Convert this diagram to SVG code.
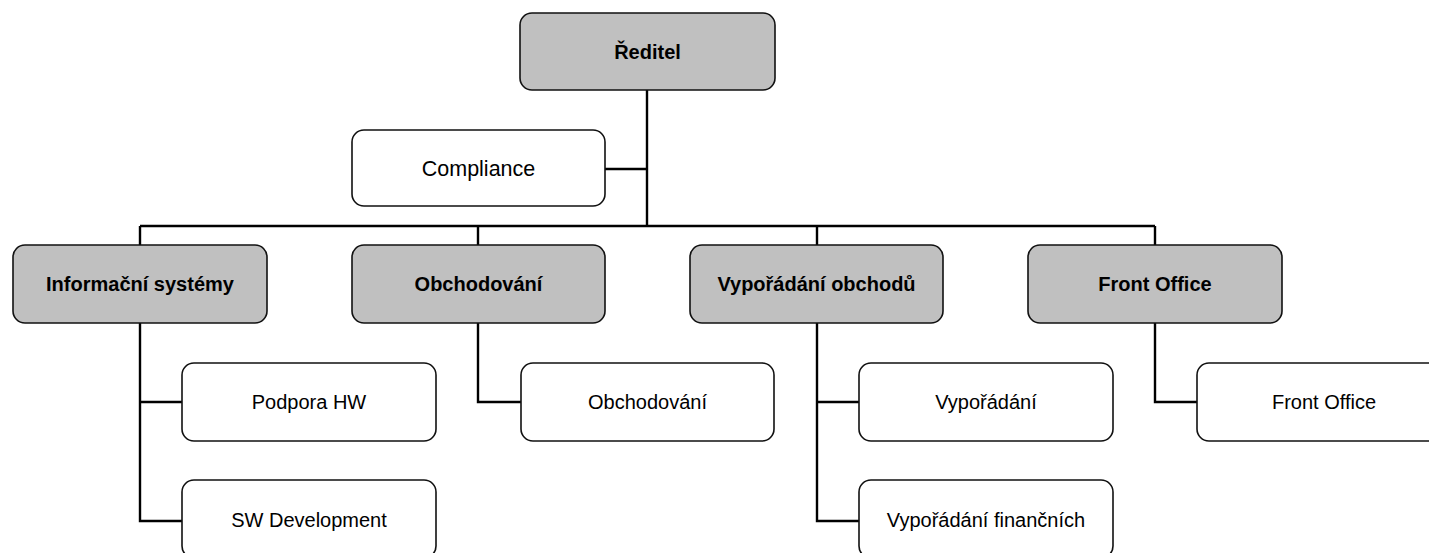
<svg xmlns="http://www.w3.org/2000/svg" width="1429" height="553" viewBox="0 0 1429 553">
<style>
.box{stroke:#111;stroke-width:1.6;}
.g{fill:#c0c0c0;}
.w{fill:#fff;}
.tb{font-family:"Liberation Sans",Arial,sans-serif;font-weight:bold;font-size:20px;fill:#000;text-anchor:middle;}
.t{font-family:"Liberation Sans",Arial,sans-serif;font-size:20px;fill:#000;text-anchor:middle;}
.c{fill:none;stroke:#000;stroke-width:2.4;}
</style>
<rect width="1429" height="553" fill="#fff"/>
<g id="connectors">
<path class="c" d="M647 90V226M605 169H647M140 226H1155M140 226V245M478 226V245M817 226V245M1155 226V245"/>
<path class="c" d="M140 323V521H182M140 402H182"/>
<path class="c" d="M478 323V402H521"/>
<path class="c" d="M817 323V521H859M817 402H859"/>
<path class="c" d="M1155 323V402H1197"/>
</g>
<g id="reditel"><rect class="box g" x="520" y="13" width="255" height="77" rx="12"/><text class="tb" x="647.5" y="58.5">Ředitel</text></g>
<g id="compliance"><rect class="box w" x="352" y="130" width="253" height="76" rx="12"/><text class="t" x="478.5" y="176" style="font-size:21.5px">Compliance</text></g>
<g id="informacni"><rect class="box g" x="13" y="245" width="254" height="78" rx="12"/><text class="tb" x="140" y="291">Informační systémy</text></g>
<g id="obchodovani"><rect class="box g" x="352" y="245" width="253" height="78" rx="12"/><text class="tb" x="478.5" y="291">Obchodování</text></g>
<g id="vyporadani-obchodu"><rect class="box g" x="690" y="245" width="253" height="78" rx="12"/><text class="tb" x="816.5" y="291">Vypořádání obchodů</text></g>
<g id="front-office"><rect class="box g" x="1028" y="245" width="254" height="78" rx="12"/><text class="tb" x="1155" y="291">Front Office</text></g>
<g id="podpora-hw"><rect class="box w" x="182" y="363" width="254" height="78" rx="12"/><text class="t" x="309" y="409">Podpora HW</text></g>
<g id="sw-development"><rect class="box w" x="182" y="480" width="254" height="78" rx="12"/><text class="t" x="309" y="527">SW Development</text></g>
<g id="obchodovani-child"><rect class="box w" x="521" y="363" width="253" height="78" rx="12"/><text class="t" x="647.5" y="409">Obchodování</text></g>
<g id="vyporadani"><rect class="box w" x="859" y="363" width="254" height="78" rx="12"/><text class="t" x="986" y="409">Vypořádání</text></g>
<g id="vyporadani-financnich"><rect class="box w" x="859" y="480" width="254" height="78" rx="12"/><text class="t" x="986" y="527">Vypořádání finančních</text></g>
<g id="front-office-child"><rect class="box w" x="1197" y="363" width="254" height="78" rx="12"/><text class="t" x="1324" y="409">Front Office</text></g>
</svg>
